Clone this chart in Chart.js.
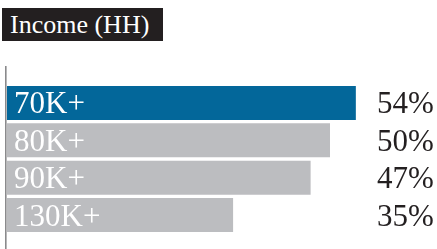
<!DOCTYPE html>
<html>
<head>
<meta charset="utf-8">
<script src="https://cdn.jsdelivr.net/npm/chart.js@4"></script>
<style>
  html, body { margin: 0; padding: 0; background: #fff; }
  #wrap { position: relative; width: 437px; height: 249px; }
  #title {
    position: absolute; left: 2px; top: 8px; width: 153px; height: 33px;
    background: #231f20; color: #fff;
    font: 26px "Liberation Serif", serif; line-height: 33px;
    padding-left: 8px; white-space: nowrap;
  }
  canvas { position: absolute; left: 0; top: 0; }
</style>
</head>
<body>
<div id="wrap">
  <canvas id="incomeChart" width="437" height="249"></canvas>
  <div id="title">Income (HH)</div>
</div>
<script>
// ===== DATA =====
const categories = ['70K+', '80K+', '90K+', '130K+'];
const shares = [54, 50, 47, 35];
const barColors = ['#03679a', '#bcbdc0', '#bcbdc0', '#bcbdc0'];

// labels inside bars, values to the right, axis line on the left
const labelPlugin = {
    id: 'labels',
    afterDatasetsDraw(chart) {
        const ctx = chart.ctx;
        const yScale = chart.scales.y;
        const area = chart.chartArea;
        ctx.save();

        // vertical axis line
        ctx.fillStyle = '#8a8a8c';
        ctx.fillRect(area.left - 2, 66, 1.6, chart.height - 66);

        ctx.font = '31px "Liberation Serif", serif';
        ctx.textBaseline = 'alphabetic';
        categories.forEach((cat, i) => {
            const y = yScale.getPixelForValue(i) + 10.5;
            ctx.fillStyle = '#ffffff';
            ctx.textAlign = 'left';
            ctx.fillText(cat, area.left + 7, y);
            ctx.fillStyle = '#231f20';
            ctx.fillText(shares[i] + '%', 377, y);
        });
        ctx.restore();
    }
};

new Chart(document.getElementById('incomeChart'), {
    type: 'bar',
    data: {
        labels: categories,
        datasets: [{
            data: shares,
            backgroundColor: barColors,
            borderWidth: 0,
            barPercentage: 0.91,
            categoryPercentage: 1
        }]
    },
    options: {
        indexAxis: 'y',
        responsive: false,
        animation: false,
        layout: { padding: { left: 7, right: 42.4, top: 84.3, bottom: 15.3 } },
        scales: {
            x: { display: false, min: 0, max: 60 },
            y: { display: false }
        },
        plugins: {
            legend: { display: false },
            tooltip: { enabled: false }
        }
    },
    plugins: [labelPlugin]
});
</script>
</body>
</html>
